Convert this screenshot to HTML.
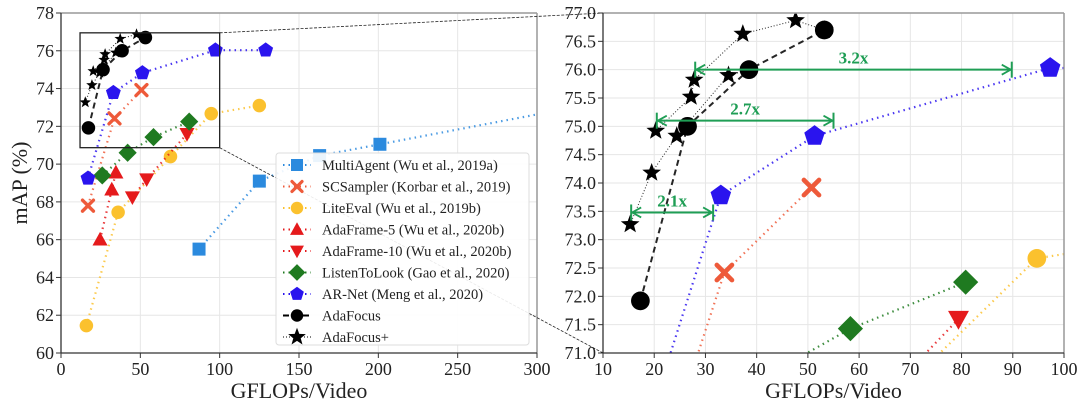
<!DOCTYPE html>
<html><head><meta charset="utf-8">
<style>
html,body{margin:0;padding:0;background:#fff;width:1080px;height:411px;overflow:hidden;}
svg{display:block;font-family:"Liberation Serif","DejaVu Serif",serif;}
</style></head>
<body>
<svg id="chart" width="1080" height="411" viewBox="0 0 1080 411">
</svg>
<script>
const seriesNames = ["MultiAgent (Wu et al., 2019a)","SCSampler (Korbar et al., 2019)","LiteEval (Wu et al., 2019b)","AdaFrame-5 (Wu et al., 2020b)","AdaFrame-10 (Wu et al., 2020b)","ListenToLook (Gao et al., 2020)","AR-Net (Meng et al., 2020)","AdaFocus","AdaFocus+"];
const multiAgentX = [87,125,163,201,320];
const multiAgentY = [65.5,69.1,70.45,71.05,72.95];
const scSamplerX = [17,33.7,50.7];
const scSamplerY = [67.8,72.42,73.92];
const liteEvalX = [16,36,69,94.7,125];
const liteEvalY = [61.45,67.45,70.4,72.67,73.1];
const adaFrame5X = [24.6,32,34.6];
const adaFrame5Y = [66.0,68.65,69.55];
const adaFrame10X = [45,54,79.4];
const adaFrame10Y = [68.25,69.2,71.6];
const listenX = [26,42,58.3,80.8];
const listenY = [69.4,70.6,71.43,72.25];
const arNetX = [17,33,51.3,97.3,129];
const arNetY = [69.25,73.78,74.83,76.03,76.03];
const adaFocusX = [17.3,26.5,38.5,53.2];
const adaFocusY = [71.92,75.0,76.0,76.7];
const adaFocusPlusAX = [15.3,19.5,24.4,34.5,38.5];
const adaFocusPlusAY = [73.27,74.18,74.83,75.9,76.0];
const adaFocusPlusBX = [20.3,27.2,27.8,37.3,47.6,53.2];
const adaFocusPlusBY = [74.92,75.52,75.82,76.63,76.87,76.7];
const leftXTicks = [0,50,100,150,200,250,300];
const leftYTicks = [60,62,64,66,68,70,72,74,76,78];
const rightXTicks = [10,20,30,40,50,60,70,80,90,100];
const rightYTicks = [71.0,71.5,72.0,72.5,73.0,73.5,74.0,74.5,75.0,75.5,76.0,76.5,77.0];
const speedupLabels = ["3.2x","2.7x","2.1x"];
const speedupY = [76.0,75.1,73.48];
const speedupFrom = [28,20.5,15.5];
const speedupTo = [89.8,55,31.5];

const NS="http://www.w3.org/2000/svg";
const svg=document.getElementById('chart');
function el(tag,attrs,parent){const e=document.createElementNS(NS,tag);for(const k in attrs)e.setAttribute(k,attrs[k]);(parent||svg).appendChild(e);return e;}

const L={x0:61,x1:537,y0:13,y1:353,xmin:0,xmax:300,ymin:60,ymax:78};
const R={x0:603,x1:1064,y0:13,y1:353,xmin:10,xmax:100,ymin:71,ymax:77};
function sx(P,v){return P.x0+(v-P.xmin)/(P.xmax-P.xmin)*(P.x1-P.x0);}
function sy(P,v){return P.y1-(v-P.ymin)/(P.ymax-P.ymin)*(P.y1-P.y0);}

const defs=el('defs',{});
[['clipL',L],['clipR',R]].forEach(([id,P])=>{const c=el('clipPath',{id:id},defs);el('rect',{x:P.x0,y:P.y0,width:P.x1-P.x0,height:P.y1-P.y0},c);});

const styles=[
 {c:'#2b8ade',m:'square',dash:'1.5,4'},
 {c:'#ee5a3a',m:'x',dash:'1.5,4'},
 {c:'#fbc12e',m:'circle',dash:'1.5,4'},
 {c:'#e51a1c',m:'tri',dash:'1.5,4'},
 {c:'#e51a1c',m:'tridown',dash:'1.5,4'},
 {c:'#1f7a20',m:'diamond',dash:'1.5,4'},
 {c:'#2a14ee',m:'pent',dash:'1.5,4'},
 {c:'#000',m:'circle',dash:'6,4'},
 {c:'#000',m:'star',dash:'1,2'}
];
const seriesX=[multiAgentX,scSamplerX,liteEvalX,adaFrame5X,adaFrame10X,listenX,arNetX,adaFocusX,adaFocusPlusAX,adaFocusPlusBX];
const seriesY=[multiAgentY,scSamplerY,liteEvalY,adaFrame5Y,adaFrame10Y,listenY,arNetY,adaFocusY,adaFocusPlusAY,adaFocusPlusBY];
const seriesStyle=[0,1,2,3,4,5,6,7,8,8];

function marker(g,type,x,y,s,c){
  let e;
  if(type==='square')e=el('rect',{x:x-s*0.5,y:y-s*0.5,width:s,height:s,fill:c},g);
  else if(type==='circle')e=el('circle',{cx:x,cy:y,r:s*0.52,fill:c},g);
  else if(type==='tri')e=el('polygon',{points:`${x},${y-s*0.6} ${x-s*0.58},${y+s*0.45} ${x+s*0.58},${y+s*0.45}`,fill:c},g);
  else if(type==='tridown')e=el('polygon',{points:`${x},${y+s*0.6} ${x-s*0.58},${y-s*0.45} ${x+s*0.58},${y-s*0.45}`,fill:c},g);
  else if(type==='diamond')e=el('polygon',{points:`${x},${y-s*0.7} ${x+s*0.7},${y} ${x},${y+s*0.7} ${x-s*0.7},${y}`,fill:c},g);
  else if(type==='pent'){let p=[];for(let i=0;i<5;i++){const a=-Math.PI/2+i*2*Math.PI/5;p.push((x+s*0.6*Math.cos(a))+','+(y+s*0.6*Math.sin(a)));}e=el('polygon',{points:p.join(' '),fill:c},g);}
  else if(type==='star'){let p=[];for(let i=0;i<10;i++){const a=-Math.PI/2+i*Math.PI/5;const r=i%2?s*0.26:s*0.62;p.push((x+r*Math.cos(a))+','+(y+r*Math.sin(a)));}e=el('polygon',{points:p.join(' '),fill:c},g);}
  else if(type==='x'){const h=s*0.42;e=el('path',{d:`M${x-h},${y-h}L${x+h},${y+h}M${x-h},${y+h}L${x+h},${y-h}`,stroke:c,'stroke-width':s*0.26,'stroke-linecap':'round'},g);}
  return e;
}

function drawPanel(P,xt,yt,clip,msize,starF,fmt,name){
  const g=el('g',{});
  
  
  const grid=el('g',{stroke:'#e6e6e6','stroke-width':1},g);
  
  
  xt.forEach(v=>el('line',{x1:sx(P,v),x2:sx(P,v),y1:P.y0,y2:P.y1},grid));
  yt.forEach(v=>el('line',{x1:P.x0,x2:P.x1,y1:sy(P,v),y2:sy(P,v)},grid));
  const data=el('g',{'clip-path':`url(#${clip})`},g);
  seriesX.forEach((xs,i)=>{
    const st=styles[seriesStyle[i]];
    const sg=el('g',{},data);
    
    
    const pts=xs.map((x,j)=>sx(P,x)+','+sy(P,seriesY[i][j])).join(' ');
    el('polyline',{points:pts,fill:'none',stroke:st.c,'stroke-width':st.m==='star'?1:(seriesStyle[i]===7?2:2.2),'stroke-dasharray':st.dash,opacity:0.85},sg);
    xs.forEach((x,j)=>{const m=marker(sg,st.m,sx(P,x),sy(P,seriesY[i][j]),msize*(st.m==='star'?starF:1),st.c);
      
      });
  });
  el('line',{x1:P.x0,x2:P.x1,y1:P.y0,y2:P.y0,stroke:'#999','stroke-width':1.5},g);
  el('line',{x1:P.x1,x2:P.x1,y1:P.y0,y2:P.y1,stroke:'#999','stroke-width':1.5},g);
  el('line',{x1:P.x0,x2:P.x0,y1:P.y0,y2:P.y1,stroke:'#333','stroke-width':1.3},g);
  el('line',{x1:P.x0,x2:P.x1,y1:P.y1,y2:P.y1,stroke:'#333','stroke-width':1.3},g);
  xt.forEach(v=>{const x=sx(P,v);el('line',{x1:x,x2:x,y1:P.y1,y2:P.y1+5,stroke:'#333'},g);
    const t=el('text',{x:x,y:P.y1+22,'text-anchor':'middle','font-size':18,fill:'#222'},g);t.textContent=v;
    });
  yt.forEach(v=>{const y=sy(P,v);el('line',{x1:P.x0-5,x2:P.x0,y1:y,y2:y,stroke:'#333'},g);
    const t=el('text',{x:P.x0-7,y:y+6,'text-anchor':'end','font-size':18,fill:'#222'},g);t.textContent=fmt(v);
    });
  const xl=el('text',{x:(P.x0+P.x1)/2,y:398,'text-anchor':'middle','font-size':22,fill:'#222'},g);
  xl.textContent='GFLOPs/Video';
  
  
  return g;
}
drawPanel(L,leftXTicks,leftYTicks,'clipL',13,0.75,v=>v,'left-panel');
drawPanel(R,rightXTicks,rightYTicks,'clipR',18,0.88,v=>v.toFixed(1),'right-panel');

const yl=el('text',{x:0,y:0,transform:'translate(27,183) rotate(-90)','text-anchor':'middle','font-size':22,fill:'#222'});
yl.textContent='mAP (%)';



const zb=el('rect',{x:sx(L,12),y:sy(L,76.95),width:sx(L,100)-sx(L,12),height:sy(L,70.87)-sy(L,76.95),fill:'none',stroke:'#222','stroke-width':1.3});


const c1=el('line',{x1:sx(L,100),y1:sy(L,76.95),x2:R.x0,y2:R.y0,stroke:'#222','stroke-width':0.8,'stroke-dasharray':'3,1.5'});


const c2=el('line',{x1:sx(L,100),y1:sy(L,70.87),x2:R.x0,y2:R.y1,stroke:'#222','stroke-width':0.8,'stroke-dasharray':'3,1.5'});



const gc='#1f9e55';
speedupLabels.forEach((lab,i)=>{
  const g=el('g',{});
  
  
  const y=sy(R,speedupY[i]),xa=sx(R,speedupFrom[i]),xb=sx(R,speedupTo[i]);
  el('line',{x1:xa,x2:xb,y1:y,y2:y,stroke:gc,'stroke-width':2},g);
  el('line',{x1:xa,x2:xa,y1:y-8,y2:y+8,stroke:gc,'stroke-width':2},g);
  el('line',{x1:xb,x2:xb,y1:y-8,y2:y+8,stroke:gc,'stroke-width':2},g);
  el('path',{d:`M${xa+10},${y-5}L${xa+1},${y}L${xa+10},${y+5}M${xb-10},${y-5}L${xb-1},${y}L${xb-10},${y+5}`,stroke:gc,'stroke-width':1.8,fill:'none'},g);
  const t=el('text',{x:(xa+xb)/2,y:y-6,'text-anchor':'middle','font-size':17,'font-weight':'bold',fill:gc},g);
  t.textContent=lab;
});

const lg=el('g',{});


el('rect',{x:276,y:153,width:253,height:192,rx:3,fill:'#fff','fill-opacity':0.9,stroke:'#ddd'},lg);
seriesNames.forEach((n,i)=>{
  const st=styles[i];const y=165+i*21.5;
  const e=el('g',{},lg);
  
  
  el('line',{x1:283,x2:311,y1:y,y2:y,stroke:st.c,'stroke-width':i===8?1:2,'stroke-dasharray':st.dash},e);
  marker(e,st.m,297,y,i===8?15:12,st.c);
  const t=el('text',{x:322,y:y+5,'font-size':14.5,fill:'#222'},e);t.textContent=n;
});
</script>
</body></html>
